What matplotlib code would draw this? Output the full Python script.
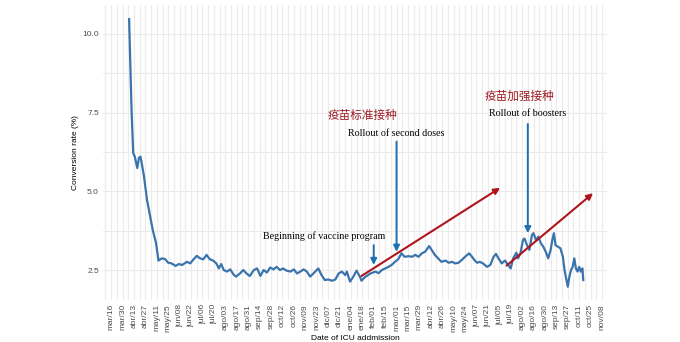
import matplotlib
matplotlib.use("Agg")
import matplotlib.pyplot as plt
import pandas as pd

# weekly-ish readings of the ICU conversion rate
fechas = [
    "2020-04-07", "2020-04-10", "2020-04-12", "2020-04-14", "2020-04-17", "2020-04-19",
    "2020-04-21", "2020-04-25", "2020-04-29", "2020-05-02", "2020-05-06", "2020-05-10",
    "2020-05-13", "2020-05-17", "2020-05-21", "2020-05-25", "2020-05-29", "2020-06-03",
    "2020-06-07", "2020-06-11", "2020-06-17", "2020-06-21", "2020-06-25", "2020-06-29",
    "2020-07-03", "2020-07-07", "2020-07-11", "2020-07-15", "2020-07-19", "2020-07-23",
    "2020-07-26", "2020-07-29", "2020-08-01", "2020-08-05", "2020-08-09", "2020-08-13",
    "2020-08-16", "2020-08-21", "2020-08-25", "2020-08-29", "2020-09-02", "2020-09-07",
    "2020-09-11", "2020-09-15", "2020-09-19", "2020-09-23", "2020-09-27", "2020-10-01",
    "2020-10-05", "2020-10-09", "2020-10-13", "2020-10-17", "2020-10-22", "2020-10-26",
    "2020-10-30", "2020-11-03", "2020-11-07", "2020-11-11", "2020-11-15", "2020-11-19",
    "2020-11-23", "2020-11-25", "2020-11-29", "2020-12-03", "2020-12-07", "2020-12-12",
    "2020-12-16", "2020-12-20", "2020-12-24", "2020-12-28", "2020-12-30", "2021-01-03",
    "2021-01-07", "2021-01-11", "2021-01-15", "2021-01-17", "2021-01-21", "2021-01-28",
    "2021-02-03", "2021-02-07", "2021-02-11", "2021-02-15", "2021-02-19", "2021-02-23",
    "2021-02-27", "2021-03-03", "2021-03-07", "2021-03-11", "2021-03-16", "2021-03-20",
    "2021-03-24", "2021-03-28", "2021-04-01", "2021-04-05", "2021-04-10", "2021-04-13",
    "2021-04-17", "2021-04-21", "2021-04-25", "2021-04-30", "2021-05-04", "2021-05-08",
    "2021-05-12", "2021-05-16", "2021-05-20", "2021-05-24", "2021-05-29", "2021-06-01",
    "2021-06-05", "2021-06-08", "2021-06-11", "2021-06-15", "2021-06-20", "2021-06-24",
    "2021-06-28", "2021-07-01", "2021-07-04", "2021-07-08", "2021-07-12", "2021-07-16",
    "2021-07-19", "2021-07-22", "2021-07-26", "2021-07-28", "2021-07-31", "2021-08-03",
    "2021-08-05", "2021-08-08", "2021-08-11", "2021-08-14", "2021-08-16", "2021-08-19",
    "2021-08-22", "2021-08-25", "2021-08-28", "2021-08-31", "2021-09-03", "2021-09-06",
    "2021-09-08", "2021-09-10", "2021-09-12", "2021-09-15", "2021-09-18", "2021-09-21",
    "2021-09-23", "2021-09-25", "2021-09-27", "2021-09-29", "2021-10-01", "2021-10-03",
    "2021-10-05", "2021-10-07", "2021-10-09", "2021-10-11", "2021-10-13", "2021-10-15",
    "2021-10-16",
]
tasa = [
    10.47, 7.58, 6.22, 6.10, 5.74, 6.06,
    6.10, 5.52, 4.72, 4.31, 3.77, 3.36,
    2.80, 2.87, 2.85, 2.73, 2.71, 2.63,
    2.69, 2.66, 2.76, 2.71, 2.84, 2.95,
    2.87, 2.84, 2.98, 2.84, 2.80, 2.71,
    2.55, 2.69, 2.50, 2.45, 2.52, 2.36,
    2.29, 2.39, 2.50, 2.39, 2.31, 2.50,
    2.55, 2.31, 2.50, 2.42, 2.58, 2.52,
    2.60, 2.50, 2.55, 2.48, 2.45, 2.52,
    2.39, 2.45, 2.52, 2.45, 2.29, 2.39,
    2.50, 2.55, 2.34, 2.18, 2.20, 2.16,
    2.20, 2.39, 2.45, 2.34, 2.45, 2.13,
    2.29, 2.48, 2.29, 2.16, 2.27, 2.39,
    2.45, 2.40, 2.50, 2.55, 2.60, 2.66,
    2.76, 2.84, 3.03, 2.92, 2.94, 2.92,
    2.98, 2.92, 3.03, 3.08, 3.26, 3.14,
    2.98, 2.87, 2.76, 2.80, 2.73, 2.76,
    2.71, 2.73, 2.82, 2.92, 3.03, 2.94,
    2.80, 2.73, 2.76, 2.71, 2.60, 2.66,
    2.92, 3.01, 2.87, 2.71, 2.80, 2.66,
    2.55, 2.87, 3.05, 2.87, 3.03, 3.45,
    3.50, 3.29, 3.14, 3.61, 3.67, 3.45,
    3.56, 3.35, 3.24, 3.08, 2.87, 3.14,
    3.45, 3.67, 3.29, 3.24, 3.19, 2.92,
    2.50, 2.24, 1.97, 2.29, 2.50, 2.60,
    2.87, 2.55, 2.45, 2.60, 2.45, 2.55,
    2.18,
]

# eje x: cortes cada dos semanas con meses en castellano
meses = ["ene", "feb", "mar", "abr", "may", "jun", "jul", "ago", "sep", "oct", "nov", "dic"]
cortes = pd.date_range("2020-03-16", "2021-11-08", freq="14D")
cortes_menores = pd.date_range("2020-03-09", "2021-11-15", freq="7D")

inicio_vacunas = "2021-02-01"
segundas_dosis = "2021-03-01"
refuerzos = "2021-08-09"

fecha = pd.to_datetime(fechas)
d = pd.to_datetime

fig = plt.figure(figsize=(6.8, 3.42), dpi=100)
ax = fig.add_axes([0.1515, 0.1228, 0.741, 0.8626])

sans = ["Liberation Sans", "DejaVu Sans"]
gris = "#ebebeb"
ax.set_xticks(cortes_menores, minor=True)
ax.set_xticks(cortes)
ax.set_xticklabels([f"{meses[c.month - 1]}/{c.day:02d}" for c in cortes],
                   rotation=90, fontsize=6, color="#4d4d4d", family=sans)
ax.set_yticks([2.5, 5.0, 7.5, 10.0])
ax.set_yticks([3.75, 6.25, 8.75], minor=True)
ax.set_yticklabels(["2.5", "5.0", "7.5", "10.0"], fontsize=6, color="#4d4d4d", family=sans)
ax.grid(True, which="both", color=gris, linewidth=0.8)
ax.set_axisbelow(True)
ax.tick_params(which="both", length=0, pad=3)
for s in ax.spines.values():
    s.set_visible(False)

ax.set_xlim(d("2020-03-06"), d("2021-11-14"))
ax.set_ylim(1.547, 10.92)

ax.plot(fecha, tasa, color="#3b74ad", linewidth=1.6, zorder=3)

ax.set_ylabel("Conversion rate (%)", fontsize=6, family=sans, labelpad=2)
ax.set_xlabel("Date of ICU addmission", fontsize=6, family=sans, labelpad=2)

# flechas de los hitos de vacunacion
azul = "#1f6fb2"
def flecha(x0, y0, x1, y1, color, lw):
    ax.annotate("", xy=(x1, y1), xytext=(x0, y0),
                arrowprops=dict(arrowstyle="-|>", color=color, lw=lw,
                                mutation_scale=9, shrinkA=0, shrinkB=0), zorder=4)

flecha(d(inicio_vacunas), 3.29, d(inicio_vacunas), 2.66, azul, 1.4)
flecha(d(segundas_dosis), 6.58, d(segundas_dosis), 3.08, azul, 1.4)
flecha(d(refuerzos), 7.14, d(refuerzos), 3.67, azul, 1.4)

rojo = "#b0141c"
flecha(d("2021-01-17"), 2.31, d("2021-07-06"), 5.11, rojo, 1.5)
flecha(d("2021-07-14"), 2.64, d("2021-10-28"), 4.94, rojo, 1.5)

serif = ["Liberation Serif", "DejaVu Serif"]
ax.text(d("2020-12-02"), 3.58, "Beginning of vaccine program", fontsize=7.2,
        family=serif, ha="center", va="center")
ax.text(d("2021-03-01"), 6.85, "Rollout of second doses", fontsize=7.2,
        family=serif, ha="center", va="center")
ax.text(d("2021-08-09"), 7.46, "Rollout of boosters", fontsize=7.2,
        family=serif, ha="center", va="center")

cjk = ["Noto Sans CJK SC", "DejaVu Sans"]
ax.text(d("2021-01-18"), 7.42, "疫苗标准接种", fontsize=8.4, color="#9e1a22",
        family=cjk, ha="center", va="center")
ax.text(d("2021-07-30"), 8.03, "疫苗加强接种", fontsize=8.4, color="#9e1a22",
        family=cjk, ha="center", va="center")

fig.savefig("out.png", dpi=100)
